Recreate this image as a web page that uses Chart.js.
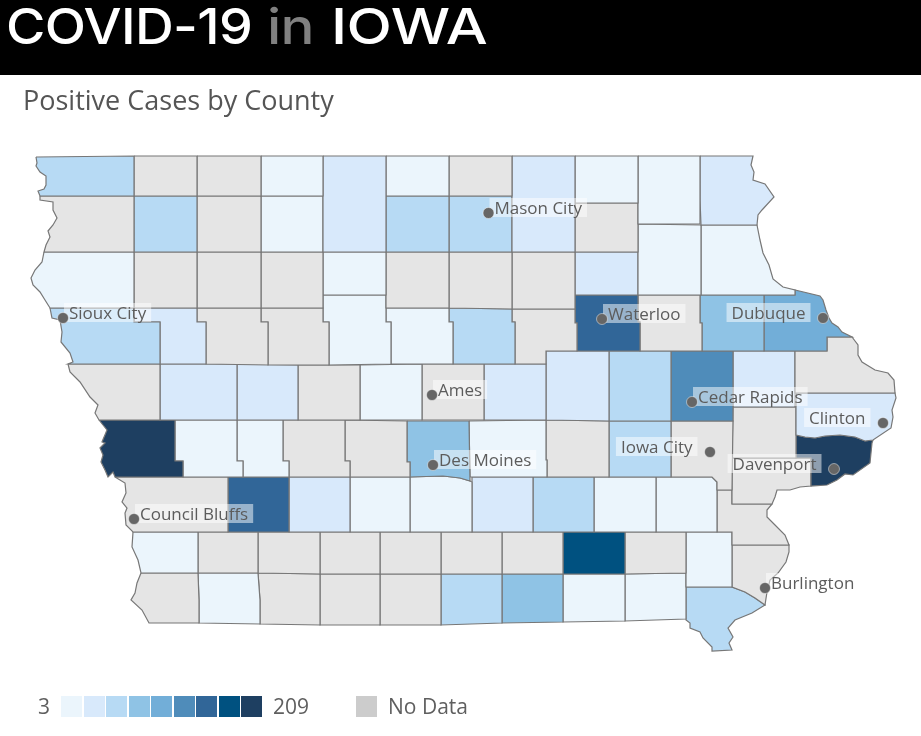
<!DOCTYPE html>
<html>
<head>
<meta charset="utf-8">
<title>COVID-19 in Iowa</title>
<script src="https://cdn.jsdelivr.net/npm/chart.js@4"></script>
<style>
    html, body { margin: 0; padding: 0; background: #fff; overflow: hidden; }
    body { width: 921px; height: 736px; position: relative; font-family: "Open Sans", sans-serif; color: #555; }
    #map { position: absolute; left: 0; top: 0; }
    .banner { position: absolute; left: 0; top: 0; width: 921px; height: 75px; background: #000; color: #fff; overflow: hidden; }
    .banner span { position: absolute; top: -5px; font: 500 50px/62px Inter, sans-serif; letter-spacing: -0.6px; white-space: nowrap; transform-origin: 0 0; }
    h1 { position: absolute; left: 23px; top: 81px; margin: 0; font-weight: 400; font-size: 27px; line-height: 37px; color: #555; }
    .legend { position: absolute; left: 0; top: 696px; height: 21px; font-size: 21px; line-height: 21px; color: #5f5f5f; }
    .legend span, .legend b { position: absolute; top: 0; white-space: nowrap; font-weight: 400; }
    .legend b { width: 21px; height: 21px; }
</style>
</head>
<body>
<canvas id="map" width="921" height="736"></canvas>
<div class="banner">
    <span style="left: 6px; transform: scaleX(1.075)">COVID-19</span>
    <span style="left: 267px; color: #808080; transform: scaleX(1.13)">in</span>
    <span style="left: 331px; transform: scaleX(1.185)">IOWA</span>
</div>
<h1>Positive Cases by County</h1>
<div class="legend" id="legend"></div>
<script>
    // colour bins, lightest to darkest. bin 0 means no data
    const binColors = ['#e5e5e5', '#ebf5fc', '#d8e9fb', '#b7daf4', '#8fc3e5', '#72aed8', '#4f8cba', '#316698', '#005180', '#1e3f61'];
    const noDataSwatch = '#cccccc';
    const scaleMin = 3;
    const scaleMax = 209;

    // counties go north to south in map units
    const countyNames = [
        'Lyon', 'Osceola', 'Dickinson', 'Emmet', 'Kossuth', 'Winnebago', 'Worth', 'Mitchell', 'Howard', 'Winneshiek', 'Allamakee',
        'Sioux', "O'Brien", 'Clay', 'Palo Alto', 'Hancock', 'Cerro Gordo', 'Chickasaw', 'Fayette', 'Clayton',
        'Plymouth', 'Cherokee', 'Buena Vista', 'Pocahontas', 'Humboldt', 'Wright', 'Franklin', 'Butler', 'Bremer',
        'Woodbury', 'Ida', 'Sac', 'Calhoun', 'Webster', 'Hamilton', 'Hardin', 'Grundy', 'Black Hawk', 'Buchanan', 'Delaware', 'Dubuque', 'Jackson',
        'Monona', 'Crawford', 'Carroll', 'Greene', 'Boone', 'Story', 'Marshall', 'Tama', 'Benton', 'Linn', 'Jones', 'Clinton',
        'Harrison', 'Shelby', 'Audubon', 'Guthrie', 'Dallas', 'Polk', 'Jasper', 'Poweshiek', 'Iowa', 'Johnson', 'Cedar', 'Scott', 'Muscatine',
        'Pottawattamie', 'Cass', 'Adair', 'Madison', 'Warren', 'Marion', 'Mahaska', 'Keokuk', 'Washington', 'Louisa',
        'Mills', 'Montgomery', 'Adams', 'Union', 'Clarke', 'Lucas', 'Monroe', 'Wapello', 'Jefferson', 'Henry', 'Des Moines',
        'Fremont', 'Page', 'Taylor', 'Ringgold', 'Decatur', 'Wayne', 'Appanoose', 'Davis', 'Van Buren', 'Lee'
    ];

    const countyBins = [
        3, 0, 0, 1, 2, 1, 0, 2, 1, 1, 2,
        0, 3, 0, 1, 3, 3, 0, 1, 1,
        1, 0, 0, 0, 1, 0, 0, 0, 2,
        3, 2, 0, 0, 1, 1, 3, 0, 7, 0, 4, 5, 0,
        0, 2, 2, 0, 1, 0, 2, 2, 3, 6, 2, 2,
        9, 1, 1, 0, 0, 4, 1, 0, 3, 0, 0, 9, 0,
        0, 7, 2, 1, 1, 2, 3, 1, 1, 0,
        1, 0, 0, 0, 0, 0, 0, 8, 0, 1, 0,
        0, 1, 0, 0, 0, 3, 4, 1, 1, 3
    ];

    const countyOutlines = [
        // Lyon .. Allamakee
        [36,157, 134,156, 134,196, 40,196, 38,191, 44,189, 46,185, 46,176, 40,172, 36,166, 37,163],
        [134,156, 197,156, 197,196, 134,196],
        [197,156, 261,156, 261,196, 197,196],
        [261,156, 323,156, 323,196, 261,196],
        [323,156, 386,156, 386,252, 323,252],
        [386,156, 449,156, 449,196, 386,196],
        [449,156, 512,156, 512,196, 449,196],
        [512,156, 575,156, 575,252, 512,252],
        [575,156, 638,156, 638,203, 575,203],
        [638,156, 700,156, 700,224, 638,224],
        [700,156, 753,156, 751,165, 754,172, 753,180, 765,184, 774,197, 762,210, 758,215, 757,225, 701,225, 700,200],
        // Sioux .. Clayton
        [40,196, 134,196, 134,252, 44,252, 46,245, 50,237, 48,231, 53,225, 57,218, 53,210, 53,202, 40,200],
        [134,196, 197,196, 197,252, 134,252],
        [197,196, 261,196, 261,252, 197,252],
        [261,196, 323,196, 323,252, 261,252],
        [386,196, 449,196, 449,252, 386,252],
        [449,196, 512,196, 512,252, 449,252],
        [575,203, 638,203, 638,252, 575,252],
        [638,224, 701,225, 701,295, 638,295],
        [701,225, 757,225, 760,240, 763,253, 769,265, 773,279, 783,287, 795,290, 795,295, 701,295],
        // Plymouth .. Bremer
        [44,252, 134,252, 134,308, 50,308, 45,300, 40,292, 33,285, 31,278, 35,270, 42,262],
        [134,252, 197,252, 197,308, 134,308],
        [197,252, 261,252, 261,308, 197,308],
        [261,252, 323,252, 323,308, 261,308],
        [323,252, 386,252, 386,295, 323,295],
        [386,252, 449,252, 449,308, 386,308],
        [449,252, 512,252, 512,309, 449,308],
        [512,252, 575,252, 575,309, 512,309],
        [575,252, 638,252, 638,295, 575,295],
        // Woodbury .. Jackson
        [50,308, 134,308, 134,322, 160,322, 160,364, 68,364, 73,362, 70,353, 61,342, 62,332, 60,320, 52,318],
        [134,308, 197,308, 197,322, 206,322, 206,364, 160,364, 160,322, 134,322],
        [197,308, 261,308, 261,322, 268,322, 268,365, 206,364, 206,322, 197,322],
        [261,308, 323,308, 323,322, 329,322, 329,365, 268,365, 268,322, 261,322],
        [323,295, 386,295, 386,322, 391,322, 391,364, 329,365, 329,322, 323,322],
        [386,308, 449,308, 449,322, 453,322, 453,364, 391,364, 391,322, 386,322],
        [449,308, 512,309, 512,322, 515,322, 515,364, 453,364, 453,322, 449,322],
        [512,309, 575,309, 575,323, 577,323, 577,351, 546,351, 546,364, 515,364, 515,322, 512,322],
        [575,295, 638,295, 638,322, 640,322, 640,351, 577,351, 577,323, 575,323],
        [638,295, 700,295, 700,323, 702,323, 702,351, 640,351, 640,322, 638,322],
        [700,295, 764,295, 764,351, 702,351, 702,323, 700,323],
        [764,295, 795,295, 795,290, 820,296, 823,300, 826,310, 829,318, 832,323, 838,327, 842,332, 852,337, 827,337, 827,351, 764,351],
        [795,351, 827,351, 827,337, 852,337, 858,345, 858,355, 862,362, 875,370, 888,373, 894,380, 895,393, 795,393],
        // Monona .. Clinton
        [68,364, 160,364, 160,420, 99,420, 95,413, 98,405, 90,397, 80,382, 70,372],
        [160,364, 237,364, 237,420, 160,420],
        [237,364, 298,365, 298,420, 237,420],
        [298,365, 360,365, 360,420, 298,420],
        [360,365, 422,364, 422,420, 360,420],
        [422,364, 484,364, 484,420, 422,420],
        [484,364, 546,364, 546,420, 484,420],
        [546,351, 609,351, 609,421, 546,420],
        [609,351, 671,351, 671,421, 609,421],
        [671,351, 733,351, 733,421, 671,421],
        [733,351, 795,351, 795,407, 733,407],
        [796,393, 895,393, 896,398, 892,410, 893,417, 891,428, 873,440, 865,441, 855,437, 840,435, 825,436, 815,438, 805,437, 796,435],
        // Harrison .. Muscatine
        [99,420, 175,420, 175,461, 183,461, 183,477, 115,477, 113,472, 108,477, 105,470, 101,462, 103,455, 100,448, 105,443, 102,442, 107,430],
        [175,420, 237,420, 237,461, 243,461, 243,477, 183,477, 183,461, 175,461],
        [237,420, 283,420, 283,461, 289,461, 289,477, 243,477, 243,461, 237,461],
        [283,420, 345,420, 345,461, 350,461, 350,477, 289,477, 289,461, 283,461],
        [345,420, 407,421, 407,462, 410,462, 410,477, 350,477, 350,461, 345,461],
        [407,421, 469,421, 470,481, 460,478, 443,476, 410,477, 410,462, 407,462],
        [469,421, 546,420, 546,460, 547,460, 547,477, 470,477],
        [546,420, 609,421, 609,477, 547,477, 547,460, 546,460],
        [609,421, 671,421, 671,477, 609,477],
        [671,421, 733,421, 732,490, 717,490, 717,482, 712,477, 671,477],
        [733,407, 796,407, 796,458, 732,458],
        [796,435, 805,437, 815,438, 825,436, 840,435, 855,437, 865,441, 873,440, 872,443, 870,463, 853,475, 845,474, 837,480, 827,485, 811,486, 811,458, 796,458],
        [732,458, 811,458, 811,486, 800,487, 790,490, 777,490, 775,497, 772,504, 732,504],
        // Pottawattamie .. Louisa
        [115,477, 228,477, 228,532, 133,532, 126,525, 125,513, 127,508, 122,502, 126,493, 125,483],
        [228,477, 289,477, 289,532, 228,532],
        [289,477, 350,477, 350,532, 289,532],
        [350,477, 410,477, 410,532, 350,532],
        [410,477, 443,476, 460,478, 470,481, 472,482, 472,532, 410,532],
        [472,477, 533,477, 533,532, 472,532],
        [533,477, 594,477, 594,532, 533,532],
        [594,477, 656,477, 656,532, 594,532],
        [656,477, 712,477, 717,482, 717,532, 656,532],
        [717,490, 732,490, 732,504, 772,504, 767,510, 767,517, 775,525, 785,535, 789,545, 732,545, 732,532, 717,532],
        // Mills .. Des Moines
        [133,532, 198,532, 198,573, 141,573, 138,560, 132,547],
        [198,532, 258,532, 258,573, 198,573],
        [258,532, 320,532, 320,574, 258,573],
        [320,532, 380,532, 380,574, 320,574],
        [380,532, 441,532, 441,574, 380,574],
        [441,532, 502,532, 502,574, 441,574],
        [502,532, 563,532, 563,574, 502,574],
        [563,532, 625,532, 625,574, 563,574],
        [625,532, 686,532, 686,573, 625,574],
        [686,532, 732,532, 732,587, 686,587],
        [732,545, 789,545, 789,552, 786,562, 778,573, 770,580, 767,592, 765,605, 755,598, 745,592, 732,587],
        // Fremont .. Lee
        [141,573, 198,573, 199,600, 199,623, 149,623, 142,610, 131,600, 135,593, 137,583],
        [198,573, 258,573, 260,600, 260,624, 199,623, 199,600],
        [258,573, 320,574, 320,625, 260,624, 260,600],
        [320,574, 380,574, 380,625, 320,625],
        [380,574, 441,574, 441,625, 380,625],
        [441,574, 502,574, 502,623, 441,625],
        [502,574, 563,574, 563,622, 502,623],
        [563,574, 625,574, 625,621, 563,622],
        [625,574, 686,573, 686,619, 625,621],
        [686,587, 732,587, 745,592, 755,598, 765,605, 752,613, 735,620, 728,628, 733,637, 729,643, 732,650, 712,651, 712,647, 703,638, 700,632, 690,628, 690,623, 686,620]
    ];

    const cityNames = ['Sioux City', 'Mason City', 'Waterloo', 'Dubuque', 'Ames', 'Des Moines', 'Cedar Rapids', 'Clinton', 'Iowa City', 'Davenport', 'Council Bluffs', 'Burlington'];
    const cityX = [63, 488.5, 602, 823, 432, 433, 692, 883, 710, 834, 134, 765];
    const cityY = [318, 213, 319, 318, 395, 465, 402, 423, 452, 469, 519, 588];
    const cityLabelLeft = [false, false, false, true, false, false, false, true, true, true, false, false];

    const countyDatasets = countyOutlines.map((flat, i) => {
        const pts = [];
        for (let k = 0; k < flat.length; k += 2) pts.push({ x: flat[k], y: flat[k + 1] });
        pts.push(pts[0]);
        return {
            label: countyNames[i],
            data: pts,
            showLine: true,
            fill: 'shape',
            tension: 0,
            backgroundColor: binColors[countyBins[i]],
            borderColor: '#777777',
            borderWidth: 1.2,
            pointRadius: 0,
            pointHoverRadius: 0
        };
    });

    const cityDataset = {
        label: 'Cities',
        data: cityNames.map((name, i) => ({ x: cityX[i], y: cityY[i] })),
        showLine: false,
        pointRadius: 5.5,
        pointBackgroundColor: '#666666',
        pointBorderColor: 'rgba(255, 255, 255, 0.45)',
        pointBorderWidth: 1
    };

    // the labels go in just before the city dots so the dots stay on top
    const cityLabels = {
        id: 'cityLabels',
        beforeDatasetDraw(chart, args) {
            if (args.index !== 0) return;
            const { ctx, scales } = chart;
            ctx.save();
            ctx.font = '400 17px "Open Sans", sans-serif';
            ctx.textBaseline = 'alphabetic';
            cityNames.forEach((name, i) => {
                const px = scales.x.getPixelForValue(cityX[i]);
                const py = scales.y.getPixelForValue(cityY[i]);
                const w = ctx.measureText(name).width + 10;
                const left = cityLabelLeft[i] ? px - 12.5 - w : px + 1;
                ctx.fillStyle = 'rgba(255, 255, 255, 0.5)';
                ctx.fillRect(left, py - 15, w, 19);
                ctx.fillStyle = '#5c5c5c';
                ctx.fillText(name, left + 5, py + 0.5);
            });
            ctx.restore();
        }
    };

    new Chart(document.getElementById('map'), {
        type: 'scatter',
        data: { datasets: [cityDataset, ...countyDatasets] },
        plugins: [cityLabels],
        options: {
            responsive: false,
            animation: false,
            layout: { padding: 0, autoPadding: false },
            scales: {
                x: { type: 'linear', min: 0, max: 921, display: false },
                y: { type: 'linear', min: 0, max: 736, reverse: true, display: false }
            },
            plugins: {
                legend: { display: false },
                tooltip: { enabled: false }
            }
        }
    });

    // legend strip under the map
    const legend = document.getElementById('legend');
    const addText = (text, left) => {
        const el = document.createElement('span');
        el.textContent = text;
        el.style.left = left + 'px';
        legend.appendChild(el);
    };
    const addSwatch = (color, left) => {
        const el = document.createElement('b');
        el.style.background = color;
        el.style.left = left + 'px';
        legend.appendChild(el);
    };
    addText(scaleMin, 38);
    binColors.slice(1).forEach((color, i) => addSwatch(color, 61 + i * 22.5));
    addText(scaleMax, 273);
    addSwatch(noDataSwatch, 356);
    addText('No Data', 388);
</script>
</body>
</html>
